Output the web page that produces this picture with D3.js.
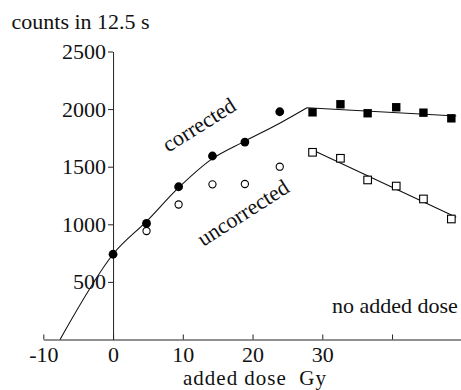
<!DOCTYPE html>
<html>
<head>
<meta charset="utf-8">
<script src="https://cdn.jsdelivr.net/npm/d3@7/dist/d3.min.js"></script>
<style>
  html, body { margin: 0; padding: 0; background: #fff; }
  svg { display: block; }
  text { font-family: "Liberation Serif", "Times New Roman", serif; fill: #111; }
</style>
</head>
<body>
<svg id="chart" width="461" height="390"></svg>
<script>
// Added-dose series (Gy) and counts in 12.5 s
const addedDose     = [0, 4.8, 9.4, 14.25, 18.9, 23.9];
const corrected     = [740, 1008, 1326, 1593, 1714, 1977];
const uncorrected   = [null, 942, 1172, 1347, 1350, 1500];

// Readings with no added dose (plotted to the right of 30 Gy)
const noDosePos       = [28.6, 32.6, 36.5, 40.6, 44.5, 48.5];
const noDoseCorrected = [1972, 2042, 1964, 2016, 1969, 1920];
const noDoseUncorr    = [1625, 1573, 1385, 1332, 1220, 1046];

// Fitted curve for the corrected growth data
const fitDose   = [-7.6, 0, 4.8, 9.4, 14.2, 18.9, 23.9, 27.8];
const fitCounts = [0, 740, 1025, 1318, 1568, 1722, 1878, 2012];

// Straight fits through the no-dose readings
const fitCorrLine   = [[27.8, 2012], [49.2, 1940]];
const fitUncorrLine = [[28.6, 1645], [49.2, 1061]];

const yTicks = [500, 1000, 1500, 2000, 2500];
const xTicks = [-10, 0, 10, 20, 30, 40, 50];
const xLabelled = [-10, 0, 10, 20, 30];

const svg = d3.select("#chart");
const x = d3.scaleLinear().domain([-10, 50]).range([43.3, 461.8]);
const y = d3.scaleLinear().domain([0, 2500]).range([339.5, 51.5]);

const FS = 22;

// Axes
const yAxis = d3.axisLeft(y).tickValues(yTicks).tickSize(5).tickSizeOuter(0).tickPadding(2)
  .tickFormat(d3.format("d"));
const gy = svg.append("g").attr("transform", `translate(${x(0)},0)`).call(yAxis);
gy.selectAll("text").style("font-size", FS + "px").attr("font-family", null);
gy.selectAll("path, line").attr("stroke", "#222");

const xAxis = d3.axisBottom(x).tickValues(xTicks).tickSizeInner(-5).tickSizeOuter(0).tickPadding(6.5)
  .tickFormat(d => xLabelled.includes(d) ? d3.format("d")(d) : "");
const gx = svg.append("g").attr("transform", `translate(0,${y(0)})`).call(xAxis);
gx.selectAll("text").style("font-size", FS + "px").attr("font-family", null);
gx.selectAll("path, line").attr("stroke", "#222");
gx.selectAll(".tick text").text(function(d) { return d < 0 ? "-" + Math.abs(d) : d3.select(this).text(); });

// Fitted lines
const line = d3.line().x(d => x(d[0])).y(d => y(d[1]));
svg.append("path")
  .datum(fitDose.map((d, i) => [d, fitCounts[i]]))
  .attr("d", line.curve(d3.curveCatmullRom.alpha(0.5)))
  .attr("fill", "none").attr("stroke", "#111").attr("stroke-width", 1.1);
const straight = d3.line().x(d => x(d[0])).y(d => y(d[1]));
svg.append("path").datum(fitCorrLine).attr("d", straight)
  .attr("fill", "none").attr("stroke", "#111").attr("stroke-width", 1.1);
svg.append("path").datum(fitUncorrLine).attr("d", straight)
  .attr("fill", "none").attr("stroke", "#111").attr("stroke-width", 1.1);

// Corrected points (filled circles)
svg.append("g").selectAll("circle")
  .data(addedDose.map((d, i) => [d, corrected[i]]))
  .join("circle")
  .attr("cx", d => x(d[0])).attr("cy", d => y(d[1])).attr("r", 4.4)
  .attr("fill", "#000");

// Uncorrected points (open circles)
svg.append("g").selectAll("circle")
  .data(addedDose.map((d, i) => [d, uncorrected[i]]).filter(d => d[1] != null))
  .join("circle")
  .attr("cx", d => x(d[0])).attr("cy", d => y(d[1])).attr("r", 3.6)
  .attr("fill", "#fff").attr("stroke", "#000").attr("stroke-width", 1.1);

// No-dose points: filled and open squares
const sq = 8.4;
svg.append("g").selectAll("rect")
  .data(noDosePos.map((d, i) => [d, noDoseCorrected[i]]))
  .join("rect")
  .attr("x", d => x(d[0]) - sq / 2).attr("y", d => y(d[1]) - sq / 2)
  .attr("width", sq).attr("height", sq).attr("fill", "#000");
const sq2 = 7.6;
svg.append("g").selectAll("rect")
  .data(noDosePos.map((d, i) => [d, noDoseUncorr[i]]))
  .join("rect")
  .attr("x", d => x(d[0]) - sq2 / 2).attr("y", d => y(d[1]) - sq2 / 2)
  .attr("width", sq2).attr("height", sq2)
  .attr("fill", "#fff").attr("stroke", "#000").attr("stroke-width", 1.1);

// Text labels
svg.append("text").attr("x", 11.5).attr("y", 29).style("font-size", FS + "px")
  .text("counts in 12.5 s");
svg.append("text").attr("x", 183).attr("y", 385.4).style("font-size", "21px")
  .attr("xml:space", "preserve").style("white-space", "pre")
  .attr("textLength", 143).attr("lengthAdjust", "spacing")
  .text("added dose  Gy");
svg.append("text").attr("x", 332).attr("y", 313).style("font-size", FS + "px")
  .text("no added dose");
svg.append("text").attr("transform", "translate(203,131) rotate(-32)")
  .attr("text-anchor", "middle").style("font-size", FS + "px").text("corrected");
svg.append("text").attr("transform", "translate(247,219) rotate(-32.5)")
  .attr("text-anchor", "middle").style("font-size", FS + "px").text("uncorrected");
</script>
</body>
</html>
